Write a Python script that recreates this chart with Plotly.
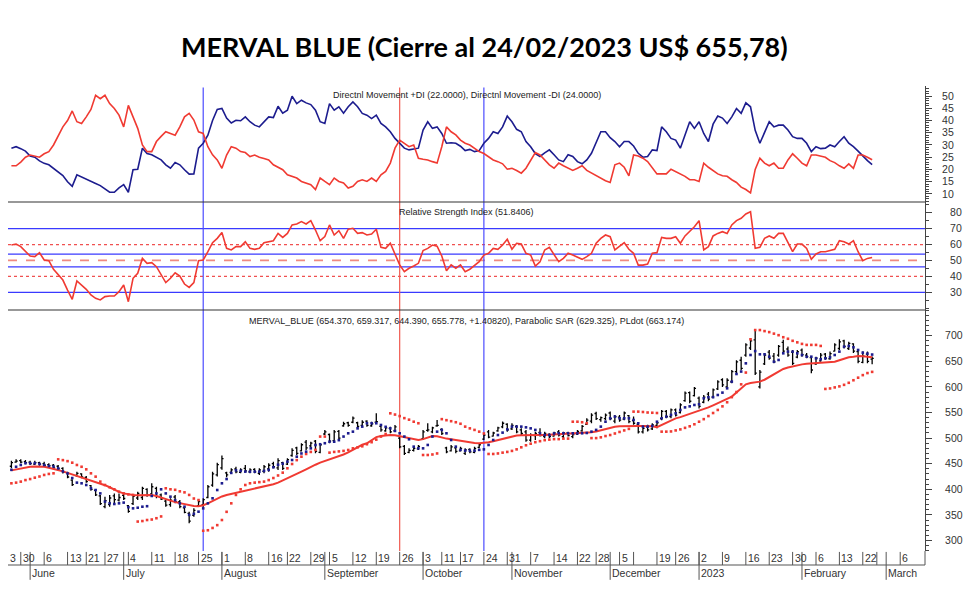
import pandas as pd
import plotly.graph_objects as go

# ---------------- calendar (Argentine trading days) ----------------
HOLIDAYS = ["2022-05-25", "2022-06-17", "2022-06-20", "2022-08-15", "2022-09-02",
            "2022-10-07", "2022-10-10", "2022-11-21", "2022-12-08", "2022-12-09",
            "2022-12-20", "2023-02-20", "2023-02-21"]
CAL_START, CAL_END, LAST_BAR = "2022-05-26", "2023-03-17", "2023-02-24"

# ---------------- data ----------------
OPEN = [445,453,456,454,453,449,452,450,448,447,
        445,441,432,418,427,430,423,407,398,387,
        366,370,387,379,388,368,372,383,384,400,
        391,402,389,377,370,385,376,364,353,349,
        368,370,384,408,428,442,432,433,440,433,
        441,434,439,431,435,440,450,442,452,449,
        466,481,475,492,485,494,472,508,507,495,
        513,524,530,531,530,525,533,524,531,523,
        514,519,514,500,484,472,476,479,499,515,
        512,524,517,481,475,481,475,470,478,
        472,482,498,512,504,514,522,527,518,523,
        516,512,496,505,511,503,507,504,512,503,
        510,503,508,514,527,533,548,536,538,549,
        533,541,537,544,534,527,512,522,518,525,
        538,552,542,555,550,573,589,583,578,570,
        586,580,596,614,600,610,630,652,662,676,
        692,600,645,668,660,662,687,674,668,658,
        672,662,657,645,651,664,655,670,675,690,
        675,684,669,648,664,654.37]
HIGH = [456,458.5,458.5,457,456,456,454,454,451,449.5,
        447.5,443,434.5,419.5,434.5,431.2,426,408.4,400,389,
        385.6,389,392,392,393.4,369.4,389,395.4,405.2,402,
        411.7,405.2,392,379.1,382.4,389,379.1,366.1,356.3,362.8,
        379.1,382.4,408.4,434.5,452,466,434.5,441,444.2,441,
        447.5,441,441,441,447.5,450.7,454,460.5,454,460.5,
        480,483.3,490,496.3,493,496.3,490,516,509,516,
        516,532,532,542,532,535,535,532,548.4,525.6,
        522.4,522.4,525.6,502.9,486.6,480,483.3,486.6,515.9,529,
        522.4,535.4,519,483.3,486.6,483.3,483.3,480,480,
        483.3,489.8,509.4,516,512.6,522.4,532.2,529,529,525.6,
        519,515.9,509.4,512.6,519,512.6,509.4,512.6,515.9,512.6,
        512.6,509.4,515.9,525.6,538.7,548.4,551.7,542,548,552,
        545,545,552,545,542,529,522,526,529,532,
        555,555,558,558,568,591,591,600,581,584,
        590,597,613,617,617,633,652,659,685,695,
        711,633,666,672,666,682,692,679,672,672,
        675,666,659,659,666,666,669,685,693,692,
        688,685,672,669,669,659.317]
LOW = [441,452,451,449,447.5,447.5,446,444,444,439,
       436,431,421.4,406.5,424.7,421.4,413,397.3,387,369.4,
       362.8,366,372.6,376,379.1,354.4,369.4,379.1,379.1,385.6,
       389,382.4,379.1,366.1,366.1,372.6,362.8,353.1,333.6,346.6,
       366.1,366.1,382.4,405.2,425,438,423.4,431.2,431.2,431.2,
       434.5,431.2,431.2,428,431.2,434.5,441,437.7,437.7,447.5,
       463.8,467,473.6,476.8,482,470.3,470.3,506,490,493,
       496,522.4,522.4,529,519,522,522,522,529,512.6,
       512.6,509.4,512.6,480,467,470.3,473.6,476.8,496.3,512.6,
       509.4,522.4,506,470.3,473.6,470.3,473.6,467,470.3,
       470.3,480,496.3,499.6,502.9,512.6,519.1,512.6,515.9,509.4,
       506,493,493,496.3,502.9,499.6,499.6,502.9,502.9,499.6,
       502.9,499.6,506,512.6,525.6,529,535.4,532,535,535,
       529,532,535,529,526,509,509,513,516,519,
       535,539,539,542,548,571,568,581,558,568,
       572,578,594,600,597,607,626,633,659,672,
       623,597,643,653,646,659,666,659,643,656,
       659,656,626.5,643,649,653,653,669,672,675,
       672,666,646,646,646,644.39]
CLOSE = [452,455,453,452,450,452,449,447,446,442,
         440,433,424,409,431,424,415,400,389,372,
         378,383,380,384,382,357,386,392,402,388,
         405,386,381,369,379,376,366,355,338,359,
         376,380,405,430,448,460,428,438,434,438,
         436,438,434,438,444,447,444,456,441,458,
         476,470,487,481,490,474,487,512,494,512,
         500,528,525,539,523,531,525,528,532,516,
         520,512,522,483,470,476,480,484,512,516,
         520,525,509,473,483,474,480,477,473,
         480,487,506,502,510,520,529,516,525,512,
         509,496,506,509,505,509,503,510,506,510,
         505,507,513,523,535,545,538,540,545,538,
         542,535,549,532,529,512,519,516,526,530,
         552,542,555,545,565,588,572,597,562,580,
         576,594,610,604,613,630,649,636,682,690,
         627,629,662,656,649,679,670,662,646,669,
         663,659,633,656,662,656,665,682,688,679,
         685,670,650,660,650,655.778]
MA_LINE = [437,439,441,443,444,444.5,444.5,444,442,440,
           438,435,432,429,426,424,421,418,415,412,
           408,404,399,395,392,390,389,388.5,388.5,389,
           389,387,384,380,378,375,373,371,369,367.5,
           367,369,372.6,377,382,386,389,391,393,395,
           397.5,400,402,404,405.5,407,410,413,417,421,
           425,430,434.5,439,444,448,452,455,458,460.5,
           464,468,472,477,483,487,490,496,502,504,
           505,506,505.5,503.5,501,499,497,496.3,498,501,
           504,503.5,501,499,497.6,496,494.5,493,491.5,
           490.5,489.8,490.5,492,494,496.3,499,501.5,503.5,505,
           505.5,506,506,506,506,506,506.5,507,507,507.4,
           508,508.5,509,509.5,510.5,511.5,513,515.5,518,520,
           522,523,523.5,523.7,523.7,523.7,523.7,523.7,523,521.5,
           526,531,535,538.5,541,544,547,550.5,553.6,557,
           560,564,568,572,576,581,589,597,605,607.5,
           609,610.3,614,619,625,630,635,638,640.5,642.5,
           644,645,645.5,646,646.5,647,647.4,649,652,655,
           657.8,659,660.4,660,659,657.8]
PLDOT = [438,444,447.5,451,451,451,449.5,447.5,445.5,444.5,
         441,435,431,422,413,411.7,408.4,402,398.6,392,
         376,372.6,371.3,372.6,374,365,362.8,364,366,367,
         387,392,400,392,385.6,378.8,372.6,366,350,352,
         356.3,362.8,372.6,382.4,398.6,411.7,420,432,437,436,
         434.5,434.5,434.5,434.5,436,438,443,448,450,454,
         457.2,463.7,470,473.5,480,486.5,488,490,493,493,
         496,503,509.4,512.6,519,522.4,529,529,529,525.6,
         522,519,514,509.4,503,497.7,483.3,480,480,486.6,
         503,512.6,516,509.4,496.3,483.3,477,475.5,475.5,
         475.5,477,478,486.6,496.3,506,510.7,517,522.4,522.4,
         522.4,521,519,516,509.4,506,506,509,509.4,509.4,
         509.4,509.4,509.4,509.4,510,512.6,516,522.4,532,538.7,
         542,538.7,538.7,538.7,535.4,528.9,522.4,522.4,523.7,532,
         538.7,541.9,545.2,548.4,554.9,560,562,564.7,566,577.7,
         579.7,580,584.2,588.8,597.2,610.3,625.2,630,646,662.3,
         670,663.6,663.6,659,649.3,652.6,665.6,668.9,668.9,665.6,
         662.3,659,659,655.8,653.9,655.8,657.8,662.3,668.9,678.6,
         679.9,677.3,672.1,666.9,665,663.174]
SAR = [411.7,413,415,418,420,422.7,425,428,430,431.2,
       458.5,457,455,452,447.5,444,439,431.2,424.7,415,
       408.4,404,400,395.4,392,390,389,337,338,340,
       341,343.5,347,402,400,399,396,394,389,382,
       379,319,320,324.5,330,340,356,372.6,389,400,
       408.4,411.7,413,414,415,418,422,427,432.5,441,
       449.4,457,463.7,469,473,477,503,503,471.6,473,
       474,475,476.8,480,482,484,488,492,497,503,
       508,548.4,546,543,539,536,532,529,467,467,
       468,470,537,535,533,531,528,522.4,519,
       516,512.6,509,469,469,470,471.6,473,475,478,
       482,486,489,492,494,496,497,498,498,499,
       499,532,532,531,529,500,500,501.5,504,506,
       509,512,515,518,551.7,551.7,551,550,549.5,549,
       512.6,512.6,513,515,517,520,523,527,532,537,
       543,549,555,562,570,580,590,605,628,693,
       711,711,709,707,704,701,697,694,690,687,
       684,682,682,682,680,596,597,599,601,604,
       608,613,618,623,627,629.325]
DI_PLUS = [28.7,29.3,28.5,27.5,25.5,25.0,23.5,22.5,21.9,20.5,
           19.2,17.5,15.0,13.1,17.8,17.0,16.0,15.1,14.3,13.4,
           12.0,10.7,10.7,12.5,13.8,10.7,19.9,20.1,28.7,26.5,
           26.0,25.0,23.9,21.9,20.5,22.8,21.9,19.9,18.1,18.2,
           28.7,30.7,34.0,40.0,44.5,44.9,41.0,39.0,40.1,39.9,
           41.5,39.5,38.1,37.4,39.5,41.5,41.2,45.8,43.0,44.2,
           49.9,46.9,48.3,47.2,46.5,44.2,39.5,38.8,46.9,44.2,
           45.6,43.0,45.6,47.6,45.6,42.9,42.2,40.8,42.2,38.8,
           37.4,35.4,32.7,30.7,28.7,28.0,28.3,28.7,36.1,39.5,
           36.8,37.4,34.7,30.7,30.9,30.7,29.5,27.7,28.2,
           27.3,27.7,30.7,32.7,35.4,34.7,37.4,41.8,39.5,36.4,
           35.4,31.4,29.3,26.5,25.3,26.8,28.0,26.0,23.9,23.2,
           26.0,25.3,23.2,22.3,23.9,26.6,30.7,35.4,35.4,33.0,
           31.4,29.3,31.4,31.4,29.6,26.6,25.0,25.3,28.0,27.7,
           37.4,35.4,32.7,32.0,28.7,34.0,39.5,36.8,39.5,34.7,
           31.4,38.5,41.8,41.0,38.8,41.5,44.9,42.9,47.2,45.6,
           36.0,30.7,35.4,39.5,37.4,38.1,38.1,36.1,33.4,32.7,
           32.7,30.7,27.3,29.3,28.5,28.7,30.0,29.3,31.4,33.4,
           30.7,29.3,27.5,25.5,23.6,22.0]
DI_MINUS = [21.5,21.5,23.0,25.0,25.9,25.3,25.0,26.4,27.3,30.0,
            33.4,37.4,40.0,43.9,39.5,38.8,41.5,44.5,50.3,48.9,
            50.3,46.9,44.9,42.2,37.4,46.2,41.5,36.8,30.0,27.3,
            27.3,31.4,33.5,35.4,34.7,34.0,37.4,41.5,42.9,40.2,
            35.4,34.7,29.3,26.0,23.9,20.5,25.9,29.3,28.7,27.3,
            26.9,25.3,25.9,25.0,24.5,23.9,21.9,21.0,19.9,17.8,
            17.0,16.5,15.1,14.5,13.8,11.8,16.5,15.1,13.8,16.5,
            15.1,14.5,12.4,13.1,15.1,15.8,15.1,16.5,15.1,17.8,
            19.2,22.6,28.7,32.0,30.7,29.3,30.0,24.6,24.2,23.9,
            23.2,22.6,29.3,37.4,35.4,34.1,32.0,30.7,30.0,
            28.7,27.3,26.5,25.3,23.9,23.2,22.3,20.1,20.5,19.6,
            18.5,20.5,23.9,26.9,25.9,23.9,21.9,20.5,22.6,21.5,
            20.5,19.6,20.5,21.5,19.6,18.5,17.4,16.5,15.4,14.7,
            21.9,22.6,20.9,17.4,25.9,25.5,24.6,23.2,20.9,18.2,
            18.2,18.2,20.1,19.2,18.2,17.2,15.8,15.8,15.1,22.6,
            20.9,19.6,18.2,17.4,17.2,15.8,14.7,12.8,11.8,10.4,
            20.0,24.6,22.6,21.5,22.6,20.5,20.5,23.9,26.4,24.6,
            22.6,21.5,25.9,25.9,25.3,25.0,23.6,22.8,21.5,20.5,
            22.3,20.5,25.9,25.9,25.0,24.0]
RSI = [59.7,60.3,58.7,55.5,52.8,52.4,54.9,50.3,49.9,44.4,
       40.9,37.7,31.4,25.6,37.1,34.6,31.9,28.3,26.2,25.2,
       27.3,27.7,27.7,30.4,34.6,24.1,38.8,41.9,51.3,48.2,
       48.6,46.1,40.9,36.1,38.8,42.3,40.2,35.2,33.1,36.1,
       49.9,50.3,55.5,61.2,63.9,67.5,57.6,56.6,58.7,58.7,
       61.8,57.6,57.0,57.6,61.2,61.8,62.4,67.0,64.5,67.0,
       72.3,72.9,74.4,72.9,75.0,69.1,62.4,65.0,72.3,66.0,
       68.7,63.9,69.6,70.2,67.0,67.5,66.0,66.6,69.6,58.2,
       57.6,60.8,53.4,47.2,43.0,45.1,46.5,48.2,56.2,57.6,
       59.7,59.0,52.8,43.6,47.2,45.1,47.2,43.0,44.5,
       47.2,49.3,53.4,54.5,57.6,57.0,59.7,63.3,57.0,60.8,
       60.3,54.5,53.4,46.5,49.2,56.6,58.2,54.0,49.2,51.3,
       54.5,53.4,52.0,50.7,52.4,54.5,60.8,63.9,66.0,64.9,
       56.6,58.7,61.2,57.0,54.5,47.1,47.1,47.8,54.5,54.9,
       64.5,63.9,63.9,64.9,60.8,65.4,68.1,71.2,75.0,56.6,
       58.7,65.4,67.0,68.1,67.0,72.3,75.0,76.5,79.2,80.6,
       57.6,58.2,63.9,65.4,63.9,67.0,67.0,60.8,55.5,60.3,
       60.3,57.6,50.7,54.1,55.5,55.5,56.2,57.0,62.4,61.8,
       60.3,62.4,55.5,49.9,51.3,51.8406]

RSI_BLUE_LEVELS = [70, 54, 46, 30]
RSI_RED_DOTTED = [60, 40]
RSI_MID = 50

WEEK_TICKS = ["2022-05-30", "2022-06-06", "2022-06-13", "2022-06-21", "2022-06-27",
              "2022-07-04", "2022-07-11", "2022-07-18", "2022-07-25", "2022-08-01",
              "2022-08-08", "2022-08-16", "2022-08-22", "2022-08-29", "2022-09-05",
              "2022-09-12", "2022-09-19", "2022-09-26", "2022-10-03", "2022-10-11",
              "2022-10-17", "2022-10-24", "2022-10-31", "2022-11-07", "2022-11-14",
              "2022-11-22", "2022-11-28", "2022-12-05", "2022-12-12", "2022-12-19",
              "2022-12-26", "2023-01-02", "2023-01-09", "2023-01-16", "2023-01-23",
              "2023-01-30", "2023-02-06", "2023-02-13", "2023-02-22", "2023-02-27",
              "2023-03-06"]
WEEK_LABELS = ["30", "6", "13", "21", "27", "4", "11", "18", "25", "1", "8", "16", "22",
               "29", "5", "12", "19", "26", "3", "11", "17", "24", "31", "7", "14", "22",
               "28", "5", "", "19", "26", "2", "9", "16", "23", "30", "6", "13", "22", "", "6"]
FIRST_LABEL = "3"
MONTH_TICKS = ["2022-06-01", "2022-07-01", "2022-08-01", "2022-09-01", "2022-10-03",
               "2022-11-01", "2022-12-01", "2023-01-02", "2023-02-01", "2023-03-01"]
MONTH_LABELS = ["June", "July", "August", "September", "October", "November",
                "December", "2023", "February", "March"]
VLINES = [("2022-07-26", "#4b4bff"), ("2022-09-26", "#f05a50"), ("2022-10-24", "#4b4bff")]

TITLE = "MERVAL BLUE (Cierre al 24/02/2023 US$ 655,78)"
DI_TITLE = "Directnl Movement +DI (22.0000), Directnl Movement -DI (24.0000)"
RSI_TITLE = "Relative Strength Index (51.8406)"
PX_TITLE = ("MERVAL_BLUE (654.370, 659.317, 644.390, 655.778, +1.40820), "
            "Parabolic SAR (629.325), PLdot (663.174)")

# ---------------- build ----------------
cal = [d.strftime("%Y-%m-%d") for d in pd.bdate_range(CAL_START, CAL_END)]
cal = [d for d in cal if d not in HOLIDAYS]
pos = {d: i for i, d in enumerate(cal)}
n = pos[LAST_BAR] + 1
x = list(range(n))

# page body has an 8px margin -> figure is sized/placed to compensate
FIG_W, FIG_H = 972, 587

XR = [-0.73, 195.3]
D_PX = [0, 0.5183]
D_RSI = [0.5183, 0.7505]
D_DI = [0.7505, 1.0]

fig = go.Figure()
fig.add_trace(go.Scatter(x=x, y=DI_PLUS, yaxis="y3", mode="lines",
                         line=dict(color="#1c1c8e", width=1.6), hoverinfo="skip"))
fig.add_trace(go.Scatter(x=x, y=DI_MINUS, yaxis="y3", mode="lines",
                         line=dict(color="#f03a32", width=1.6), hoverinfo="skip"))
fig.add_trace(go.Scatter(x=x, y=RSI, yaxis="y2", mode="lines",
                         line=dict(color="#f03a32", width=1.6), hoverinfo="skip"))
fig.add_trace(go.Scatter(x=x, y=MA_LINE, yaxis="y", mode="lines",
                         line=dict(color="#f03a32", width=2), hoverinfo="skip"))
fig.add_trace(go.Scatter(x=x, y=SAR, yaxis="y", mode="markers",
                         marker=dict(color="#f03a32", size=2.6, symbol="square",
                                     line=dict(width=0)), hoverinfo="skip"))
fig.add_trace(go.Scatter(x=x, y=PLDOT, yaxis="y", mode="markers",
                         marker=dict(color="#1c1c8e", size=2.6, symbol="square",
                                     line=dict(width=0)), hoverinfo="skip"))
fig.add_trace(go.Ohlc(x=x, open=OPEN, high=HIGH, low=LOW, close=CLOSE, yaxis="y",
                      increasing=dict(line=dict(color="black", width=1.3)),
                      decreasing=dict(line=dict(color="black", width=1.3)),
                      tickwidth=0.35, hoverinfo="skip"))

shapes = []
for v in RSI_BLUE_LEVELS:
    shapes.append(dict(type="line", xref="paper", x0=0, x1=1, yref="y2", y0=v, y1=v,
                       line=dict(color="#3a3aff", width=1.2), layer="below"))
for v in RSI_RED_DOTTED:
    shapes.append(dict(type="line", xref="paper", x0=0, x1=1, yref="y2", y0=v, y1=v,
                       line=dict(color="#f05050", width=1.2, dash="dot"), layer="below"))
shapes.append(dict(type="line", xref="paper", x0=0, x1=1, yref="y2", y0=RSI_MID, y1=RSI_MID,
                   line=dict(color="#f08a80", width=1.8, dash="dash"), layer="below"))
for d, col in VLINES:
    shapes.append(dict(type="line", xref="x", x0=pos[d], x1=pos[d], yref="paper", y0=0, y1=0.997,
                       line=dict(color=col, width=1.2), layer="below"))
for yy in (D_PX[1], D_RSI[1]):
    shapes.append(dict(type="line", xref="paper", x0=0, x1=1, yref="paper", y0=yy, y1=yy,
                       line=dict(color="#333333", width=1.2)))
BASE = -0.0301
shapes.append(dict(type="line", xref="paper", x0=0, x1=1, yref="paper", y0=BASE, y1=BASE,
                   line=dict(color="#555555", width=1.2)))
shapes.append(dict(type="line", xref="paper", x0=1, x1=1, yref="paper", y0=0, y1=BASE,
                   line=dict(color="#555555", width=1)))
annotations = []
for d, lab in zip(WEEK_TICKS, WEEK_LABELS):
    p = pos[d]
    shapes.append(dict(type="line", xref="x", x0=p, x1=p, yref="paper", y0=-0.002, y1=BASE,
                       line=dict(color="#555555", width=1)))
    if lab:
        annotations.append(dict(x=p, y=-0.0155, xref="x", yref="paper", text=lab,
                                showarrow=False, xanchor="left", yanchor="middle", xshift=0,
                                font=dict(size=10.5, color="#333333", family="Liberation Sans")))
annotations.append(dict(x=0, y=-0.0155, xref="paper", yref="paper", text=FIRST_LABEL,
                        showarrow=False, xanchor="left", yanchor="middle",
                        font=dict(size=10.5, color="#333333", family="Liberation Sans")))
for d, lab in zip(MONTH_TICKS, MONTH_LABELS):
    p = pos[d]
    shapes.append(dict(type="line", xref="x", x0=p, x1=p, yref="paper", y0=-0.002, y1=-0.062,
                       line=dict(color="#555555", width=1)))
    annotations.append(dict(x=p, y=-0.048, xref="x", yref="paper", text=lab,
                            showarrow=False, xanchor="left", yanchor="middle", xshift=0,
                            font=dict(size=10.5, color="#333333", family="Liberation Sans")))

for txt, yy in ((DI_TITLE, 0.9806), (RSI_TITLE, 0.7297), (PX_TITLE, 0.4953)):
    annotations.append(dict(x=0.5, y=yy, xref="paper", yref="paper", text=txt, showarrow=False,
                            xanchor="center", yanchor="middle",
                            font=dict(size=9, color="#222222", family="Liberation Sans")))

def yax(domain, rng, tickvals, minor_vals, standoff):
    return dict(domain=domain, range=rng, side="right", anchor="x",
                tickmode="array", tickvals=tickvals, ticktext=[str(v) for v in tickvals],
                ticks="outside", ticklen=6, tickcolor="#444444", tickwidth=1,
                minor=dict(tickmode="array", tickvals=minor_vals, ticks="outside", ticklen=3,
                           tickcolor="#444444"),
                showline=True, linecolor="#444444", linewidth=1,
                showgrid=False, zeroline=False, fixedrange=True,
                ticklabelstandoff=standoff,
                tickfont=dict(size=10.5, color="#333333", family="Liberation Sans"))

fig.update_layout(
    width=FIG_W, height=FIG_H,
    margin=dict(l=0, r=55, t=78, b=44),
    paper_bgcolor="white", plot_bgcolor="white",
    showlegend=False,
    title=dict(text="<b>" + TITLE + "</b>", x=0.49, xref="container", xanchor="center",
               y=1 - 40 / FIG_H, yref="container", yanchor="middle",
               font=dict(family="Lato", size=27, color="black")),
    xaxis=dict(range=XR, anchor="y", showticklabels=False, ticks="", showgrid=False,
               zeroline=False, showline=False, rangeslider=dict(visible=False), fixedrange=True),
    yaxis=yax(D_PX, [279.5, 750.2], list(range(300, 701, 50)), list(range(280, 751, 10)), 11),
    yaxis2=yax(D_RSI, [18.9, 86.7], list(range(30, 81, 10)), list(range(20, 86, 5)), 16),
    yaxis3=yax(D_DI, [6.7, 54.1], list(range(10, 51, 5)), list(range(7, 54, 1)), 8),
    shapes=shapes, annotations=annotations,
)

fig.write_html("out.html")
